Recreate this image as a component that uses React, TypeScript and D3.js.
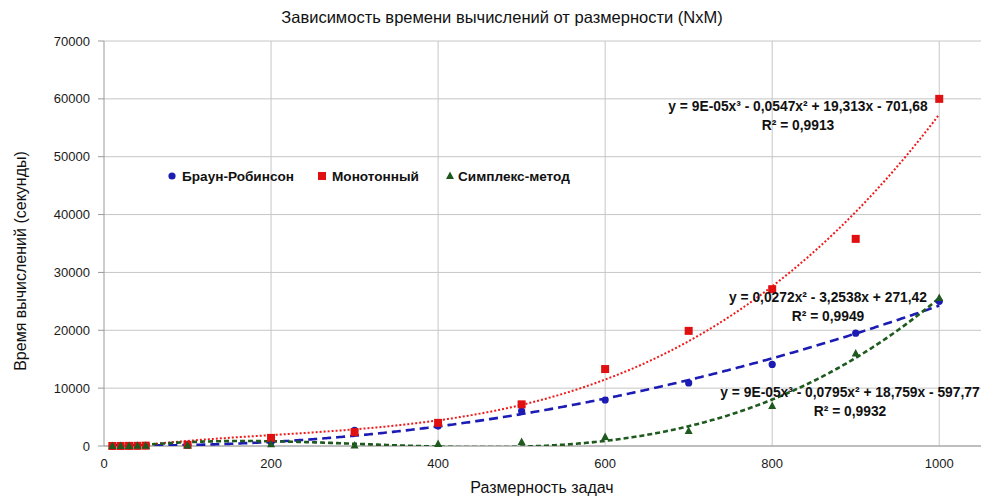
import React from "react";
import * as d3 from "d3";

const xValues = [10, 20, 30, 40, 50, 100, 200, 300, 400, 500, 600, 700, 800, 900, 1000];
const brownRobinson = [5, 10, 20, 40, 70, 150, 700, 2700, 3450, 6050, 7950, 10900, 14100, 19500, 25000];
const monotone = [5, 10, 20, 30, 60, 200, 1400, 2400, 4000, 7200, 13300, 19900, 27100, 35800, 60000];
const simplex = [5, 10, 20, 30, 50, 100, 300, 100, 350, 700, 1550, 2600, 6900, 16000, 25600];
const xTicks = [0, 200, 400, 600, 800, 1000];
const yTicks = [0, 10000, 20000, 30000, 40000, 50000, 60000, 70000];
const seriesNames = ["Браун-Робинсон", "Монотонный", "Симплекс-метод"];
const equations = [
  "y = 0,0272x² - 3,2538x + 271,42",
  "y = 9E-05x³ - 0,0547x² + 19,313x - 701,68",
  "y = 9E-05x³ - 0,0795x² + 18,759x - 597,77",
];
const rSquared = ["R² = 0,9949", "R² = 0,9913", "R² = 0,9932"];
const degrees = [2, 3, 3];

const W = 986, H = 496;
const M = { left: 104, right: 981, top: 41, bottom: 446 };
const FONT = "'Liberation Sans', Arial, sans-serif";

function polyfit(xs: number[], ys: number[], deg: number): number[] {
  const s = 1000;
  const n = deg + 1;
  const A: number[][] = Array.from({ length: n }, () => new Array(n + 1).fill(0));
  xs.forEach((xv, k) => {
    const x = xv / s;
    for (let i = 0; i < n; i++) {
      for (let j = 0; j < n; j++) A[i][j] += Math.pow(x, i + j);
      A[i][n] += ys[k] * Math.pow(x, i);
    }
  });
  for (let c = 0; c < n; c++) {
    let p = c;
    for (let r = c + 1; r < n; r++) if (Math.abs(A[r][c]) > Math.abs(A[p][c])) p = r;
    [A[c], A[p]] = [A[p], A[c]];
    for (let r = 0; r < n; r++) {
      if (r === c) continue;
      const f = A[r][c] / A[c][c];
      for (let k = c; k <= n; k++) A[r][k] -= f * A[c][k];
    }
  }
  const coef = A.map((row, i) => row[n] / row[i]);
  return coef.map((c, i) => c / Math.pow(s, i));
}

export default function App() {
  const x = d3.scaleLinear().domain([0, 1050]).range([M.left, M.right]);
  const y = d3.scaleLinear().domain([0, 70000]).range([M.bottom, M.top]);
  const data = [brownRobinson, monotone, simplex];
  const colors = ["#1c1cb4", "#e01010", "#1e5a1e"];
  const lineColors = ["#1c1cb4", "#ee1c1c", "#1e5a1e"];
  const dashes = ["9,5", "2,2", "5,3"];
  const widths = [2.6, 2, 2.6];

  const sampleX = d3.range(10, 1000.001, 2);
  const trendPaths = data.map((ys, i) => {
    const c = polyfit(xValues, ys, degrees[i]);
    const f = (xv: number) => c.reduce((acc, ci, k) => acc + ci * Math.pow(xv, k), 0);
    const line = d3.line<number>().x((d) => x(d)).y((d) => y(f(d)));
    return line(sampleX) || "";
  });

  const marker = (i: number, cx: number, cy: number, key: string) => {
    if (i === 0) return <circle key={key} cx={cx} cy={cy} r={3.6} fill={colors[0]} />;
    if (i === 1) return <rect key={key} x={cx - 4} y={cy - 4} width={8} height={8} fill={colors[1]} />;
    return <path key={key} d={`M${cx},${cy - 4.5}L${cx + 4},${cy + 3}L${cx - 4},${cy + 3}Z`} fill={colors[2]} />;
  };

  const legendItems = [
    { mx: 172, tx: 182 },
    { mx: 322, tx: 332 },
    { mx: 450, tx: 458 },
  ];
  const eqPos = [
    { cx: 828, y1: 302, y2: 321 },
    { cx: 798, y1: 111, y2: 130 },
    { cx: 850, y1: 397, y2: 416 },
  ];

  return (
    <svg width={W} height={H} style={{ position: "absolute", left: 0, top: 0, background: "#fff" }} fontFamily={FONT}>
      <defs>
        <clipPath id="plotClip">
          <rect x={M.left} y={M.top} width={M.right - M.left} height={M.bottom - M.top} />
        </clipPath>
      </defs>
      {yTicks.map((t) => (
        <line key={"gy" + t} x1={M.left} x2={M.right} y1={y(t)} y2={y(t)} stroke="#c6c6c6" strokeWidth={1} />
      ))}
      {xTicks.filter((t) => t > 0).map((t) => (
        <line key={"gx" + t} x1={x(t)} x2={x(t)} y1={M.top} y2={M.bottom} stroke="#c6c6c6" strokeWidth={1} />
      ))}
      <line x1={M.left} x2={M.left} y1={M.top} y2={M.bottom} stroke="#9a9a9a" />
      <line x1={M.left} x2={M.right} y1={M.bottom} y2={M.bottom} stroke="#9a9a9a" />
      {yTicks.map((t) => (
        <line key={"ty" + t} x1={M.left - 6} x2={M.left} y1={y(t)} y2={y(t)} stroke="#9a9a9a" />
      ))}
      {yTicks.map((t) => (
        <text key={"ly" + t} x={M.left - 14} y={y(t) + 4.5} textAnchor="end" fontSize={13} fill="#1a1a1a">
          {t}
        </text>
      ))}
      {xTicks.map((t) => (
        <text key={"lx" + t} x={x(t)} y={468} textAnchor="middle" fontSize={13} fill="#1a1a1a">
          {t}
        </text>
      ))}
      <g clipPath="url(#plotClip)">
        {trendPaths.map((p, i) => (
          <path key={"tr" + i} d={p} fill="none" stroke={lineColors[i]} strokeWidth={widths[i]} strokeDasharray={dashes[i]} />
        ))}
      </g>
      {data.map((ys, i) => (
        <g key={"m" + i}>{ys.map((v, k) => marker(i, x(xValues[k]), y(v), `m${i}-${k}`))}</g>
      ))}
      {legendItems.map((l, i) => (
        <g key={"lg" + i}>
          {marker(i, l.mx, 176, "lgm" + i)}
          <text x={l.tx} y={181} fontSize={13.6} fontWeight="bold" fill="#111">
            {seriesNames[i]}
          </text>
        </g>
      ))}
      {eqPos.map((e, i) => (
        <g key={"eq" + i} fontSize={13.8} fontWeight="bold" fill="#111" textAnchor="middle">
          <text x={e.cx} y={e.y1}>{equations[i]}</text>
          <text x={e.cx} y={e.y2}>{rSquared[i]}</text>
        </g>
      ))}
      <text x={502} y={23} textAnchor="middle" fontSize={16.5} fill="#111">
        Зависимость времени вычислений от размерности (NxM)
      </text>
      <text x={542} y={493} textAnchor="middle" fontSize={16} fill="#111">
        Размерность задач
      </text>
      <text transform="translate(26,261) rotate(-90)" textAnchor="middle" fontSize={16} fill="#111">
        Время вычислений (секунды)
      </text>
    </svg>
  );
}
